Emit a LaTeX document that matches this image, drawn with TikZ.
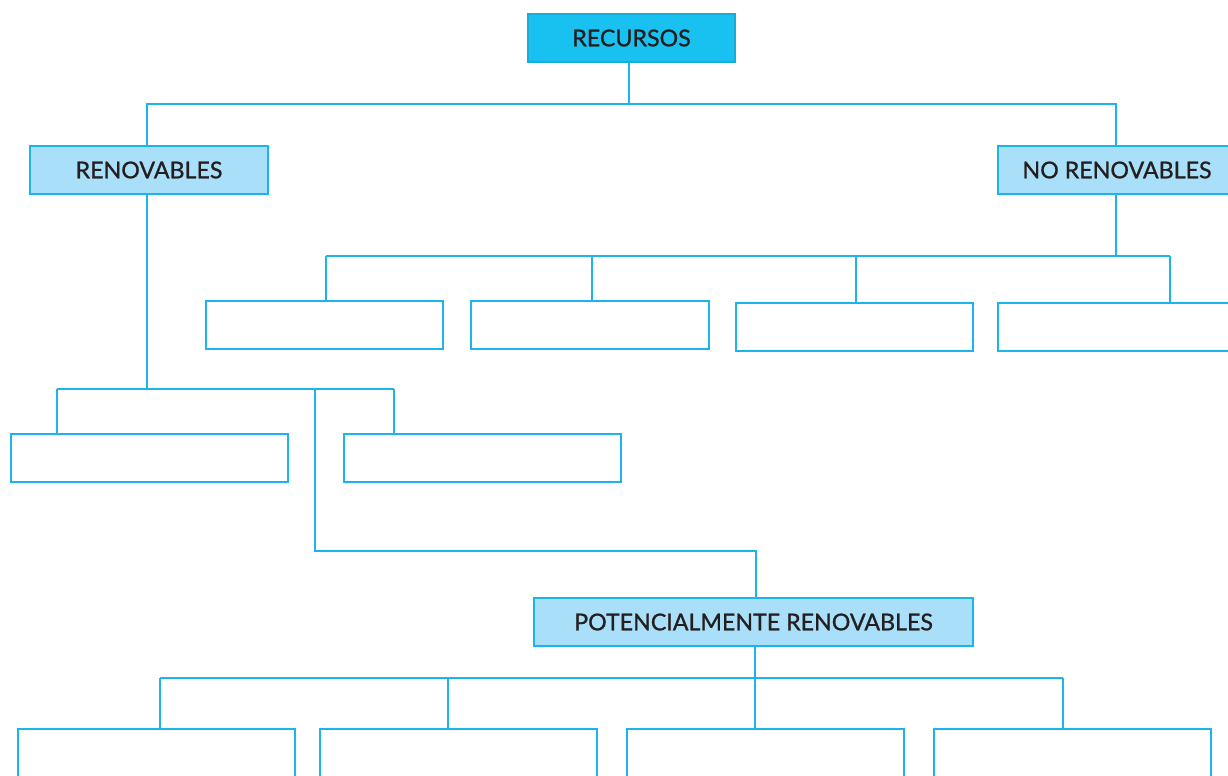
\documentclass[tikz,border=0pt]{standalone}
\usepackage{fontspec}
\setmainfont{Lato}[FakeBold=1]
\definecolor{linea}{HTML}{1BB5EC}
\definecolor{fuerte}{HTML}{19C1F1}
\definecolor{claro}{HTML}{A9DFF8}
\definecolor{texto}{HTML}{231F20}

\begin{document}
\begin{tikzpicture}[x=0.02cm, y=-0.02cm, line width=0.75pt,
  caja/.style = {draw=linea, line width=1.1pt, rectangle, minimum height=0.96cm, inner sep=0pt, font=\fontsize{13.2}{16}\selectfont, text=texto},
  top/.style = {caja, fill=fuerte, draw=fuerte!90!black},
  tit/.style = {caja, fill=claro},
  vacia/.style = {caja, fill=white}]
\useasboundingbox (0,0) rectangle (1228,775);
\clip (0,0) rectangle (1228,775);
\node[top, minimum width=4.14cm] (rec) at (631.5,38) {RECURSOS};
\node[tit, minimum width=4.76cm] (ren) at (149,170) {RENOVABLES};
\node[tit, minimum width=4.76cm] (nren) at (1117,170) {NO RENOVABLES};
\node[vacia, minimum width=4.74cm] (n1) at (324.5,325) {};
\node[vacia, minimum width=4.76cm] (n2) at (590,325) {};
\node[vacia, minimum width=4.74cm] (n3) at (854.5,327) {};
\node[vacia, minimum width=4.76cm] (n4) at (1117,327) {};
\node[vacia, minimum width=5.54cm] (r1) at (149.5,458) {};
\node[vacia, minimum width=5.54cm] (r2) at (482.5,458) {};
\node[tit, minimum width=8.78cm] (pot) at (753.5,622) {POTENCIALMENTE RENOVABLES};
\node[vacia, minimum width=5.54cm] (p1) at (156.5,753) {};
\node[vacia, minimum width=5.54cm] (p2) at (458.5,753) {};
\node[vacia, minimum width=5.54cm] (p3) at (765.5,753) {};
\node[vacia, minimum width=5.54cm] (p4) at (1072.5,753) {};
% ramas
\coordinate (b1) at (629,104);
\coordinate (c1) at (147,104);
\coordinate (c2) at (1116,104);
\coordinate (b2) at (1116,256);
\coordinate (d1) at (326,256);
\coordinate (d2) at (592,256);
\coordinate (d3) at (856,256);
\coordinate (d4) at (1170,256);
\coordinate (b3) at (147,389);
\coordinate (e1) at (57,389);
\coordinate (e2) at (394,389);
\coordinate (e3) at (315,389);
\coordinate (e4) at (756,551);
\coordinate (b4) at (755,678);
\coordinate (f1) at (160,678);
\coordinate (f2) at (448,678);
\coordinate (f3) at (755,678);
\coordinate (f4) at (1063,678);
\begin{scope}[draw=linea]
\draw (rec.south -| b1) -- (b1);
\draw (c1 |- ren.north) -- (c1) -- (c2) -- (c2 |- nren.north);
\draw (nren.south -| b2) -- (b2);
\draw (d1) -- (d4);
\foreach \d/\n in {d1/n1, d2/n2, d3/n3, d4/n4}
  \draw (\d) -- (\d |- \n.north);
\draw (ren.south -| b3) -- (b3);
\draw (e1) -- (e2);
\draw (e1) -- (e1 |- r1.north);
\draw (e2) -- (e2 |- r2.north);
\draw (e3) |- (e4) -- (e4 |- pot.north);
\draw (pot.south -| b4) -- (b4);
\draw (f1) -- (f4);
\foreach \f/\p in {f1/p1, f2/p2, f3/p3, f4/p4}
  \draw (\f) -- (\f |- \p.north);
\end{scope}
\end{tikzpicture}
\end{document}
